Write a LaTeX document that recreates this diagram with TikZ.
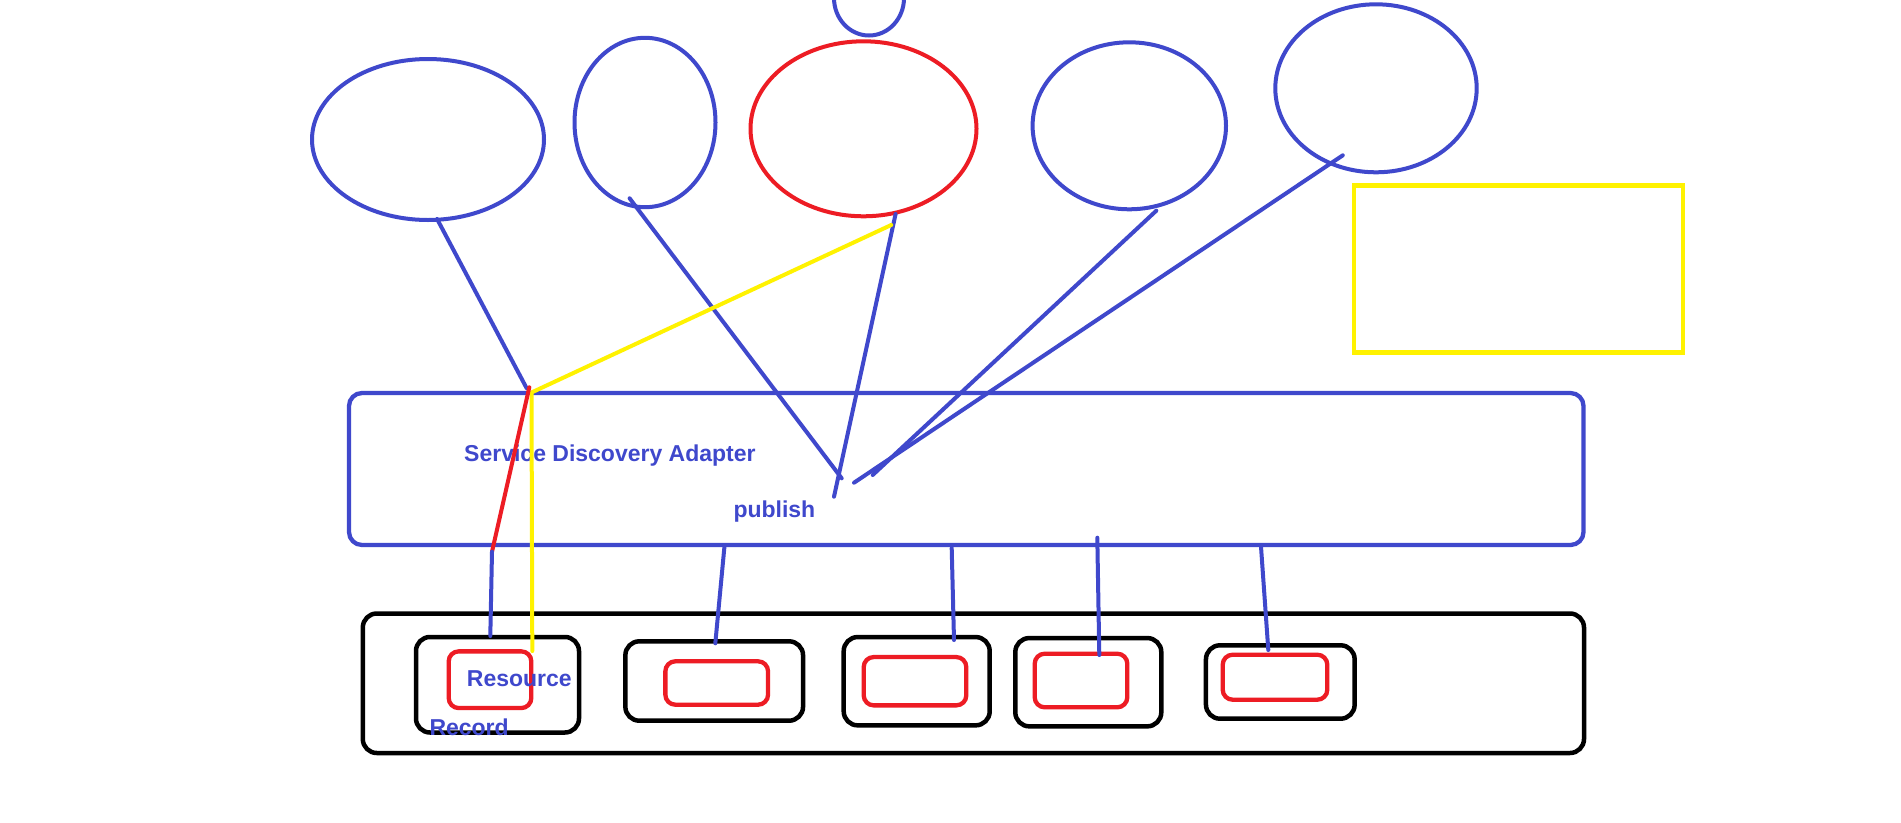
\documentclass[tikz,border=0pt]{standalone}
\usepackage{fontspec}
\setmainfont{Liberation Sans}
\usetikzlibrary{shapes.geometric}
\definecolor{pblue}{RGB}{63,72,204}
\definecolor{pred}{RGB}{237,28,36}
\definecolor{pyellow}{RGB}{255,242,0}
\tikzset{
  oval/.style={ellipse, draw=pblue, line width=4pt, inner sep=0pt, outer sep=0pt},
  redoval/.style={oval, draw=pred},
  sda/.style={rectangle, rounded corners=13pt, draw=pblue, line width=4.3pt, inner sep=0pt, outer sep=0pt},
  blackbox/.style={rectangle, rounded corners=14pt, draw=black, line width=4.5pt, inner sep=0pt, outer sep=0pt},
  redbox/.style={rectangle, rounded corners=10pt, draw=pred, line width=4.3pt, inner sep=0pt, outer sep=0pt},
  yellowbox/.style={rectangle, draw=pyellow, line width=4.5pt, inner sep=0pt, outer sep=0pt},
  bline/.style={draw=pblue, line width=4pt, line cap=round},
  rline/.style={draw=pred, line width=4pt, line cap=round},
  yline/.style={draw=pyellow, line width=4pt, line cap=round, line join=round},
  lbl/.style={text=pblue, font=\fontsize{23}{23}\selectfont\bfseries, inner sep=0pt, anchor=base west}
}
\begin{document}
\begin{tikzpicture}[x=1pt,y=-1pt]
\useasboundingbox (0,0) rectangle (1901,822);
\fill[white] (0,0) rectangle (1901,822);
% ellipses
\node[oval, minimum width=232pt, minimum height=161pt] (e1) at (428,139.5) {};
\node[oval, minimum width=141pt, minimum height=169.4pt] (e2) at (645,122.5) {};
\node[redoval, minimum width=226pt, minimum height=175pt] (e3) at (863.5,128.8) {};
\node[oval, minimum width=70pt, minimum height=75pt] (e0) at (869,-2) {};
\node[oval, minimum width=193.4pt, minimum height=167pt] (e4) at (1129.3,125.8) {};
\node[oval, minimum width=201.4pt, minimum height=168pt] (e5) at (1376,88.3) {};
% yellow rectangle
\node[yellowbox, minimum width=329pt, minimum height=166.6pt] (yb) at (1518.5,269) {};
% adapter and record container
\node[sda, minimum width=1234.5pt, minimum height=152pt] (sda) at (966.25,469) {};
\node[blackbox, minimum width=1221.2pt, minimum height=139.5pt] (store) at (973.4,683.25) {};
% records
\node[blackbox, minimum width=163pt, minimum height=95.5pt] (b1) at (497.5,684.75) {};
\node[redbox, minimum width=82.6pt, minimum height=56.7pt] (r1) at (490,679.7) {};
\node[blackbox, minimum width=177.7pt, minimum height=79.4pt] (b2) at (714.2,681) {};
\node[redbox, minimum width=102.7pt, minimum height=43.4pt] (r2) at (716.7,683) {};
\node[blackbox, minimum width=146pt, minimum height=88.3pt] (b3) at (916.7,681.2) {};
\node[redbox, minimum width=102.6pt, minimum height=48.3pt] (r3) at (915,681.2) {};
\node[blackbox, minimum width=146pt, minimum height=88.3pt] (b4) at (1088.3,682.2) {};
\node[redbox, minimum width=92.6pt, minimum height=53.6pt] (r4) at (1081,680.5) {};
\node[blackbox, minimum width=148.7pt, minimum height=73.4pt] (b5) at (1280.3,682) {};
\node[redbox, minimum width=104.6pt, minimum height=45pt] (r5) at (1275,677.2) {};
% labels
\node[lbl] (tsda) at (464,461.7) {Service Discovery Adapter};
\node[lbl] (tpub) at (733.3,517.7) {publish};
\node[lbl] (tres) at (466.7,686.7) {Resource};
\node[lbl] (trec) at (429.3,735) {Record};
% connector end points
\coordinate (s1) at (437.1,219);
\coordinate (p1) at (526.7,388.3);
\coordinate (s2) at (629.6,198.3);
\coordinate (p2) at (841.7,478.3);
\coordinate (s3) at (895.6,214);
\coordinate (p3) at (834,496.7);
\coordinate (s4) at (1156.3,210.7);
\coordinate (p4) at (872.7,475);
\coordinate (s5) at (1342.8,155.3);
\coordinate (p5) at (854,482.7);
\coordinate (ys) at (891.2,225);
\coordinate (yj) at (531.5,392.5);
\coordinate (ye) at (532.3,651);
\coordinate (rs) at (529.3,387.3);
\coordinate (rj) at (492,551.7);
\coordinate (k1) at (490.3,636);
\coordinate (q2) at (724.5,546);
\coordinate (k2) at (715.3,643.3);
\coordinate (q3) at (951.7,548);
\coordinate (k3) at (954,640);
\coordinate (q4) at (1097.3,537.7);
\coordinate (k4) at (1099.3,655);
\coordinate (q5) at (1261,546.7);
\coordinate (k5) at (1268.3,650);
% connectors
\draw[bline] (s1) -- (p1);
\draw[bline] (s2) -- (p2);
\draw[bline] (s3) -- (p3);
\draw[bline] (s4) -- (p4);
\draw[bline] (s5) -- (p5);
\draw[yline] (ys) -- (yj) -- (ye);
\draw[rline] (rs) -- (rj);
\draw[bline] (rj) -- (k1);
\draw[bline] (q2) -- (k2);
\draw[bline] (q3) -- (k3);
\draw[bline] (q4) -- (k4);
\draw[bline] (q5) -- (k5);
\end{tikzpicture}
\end{document}
